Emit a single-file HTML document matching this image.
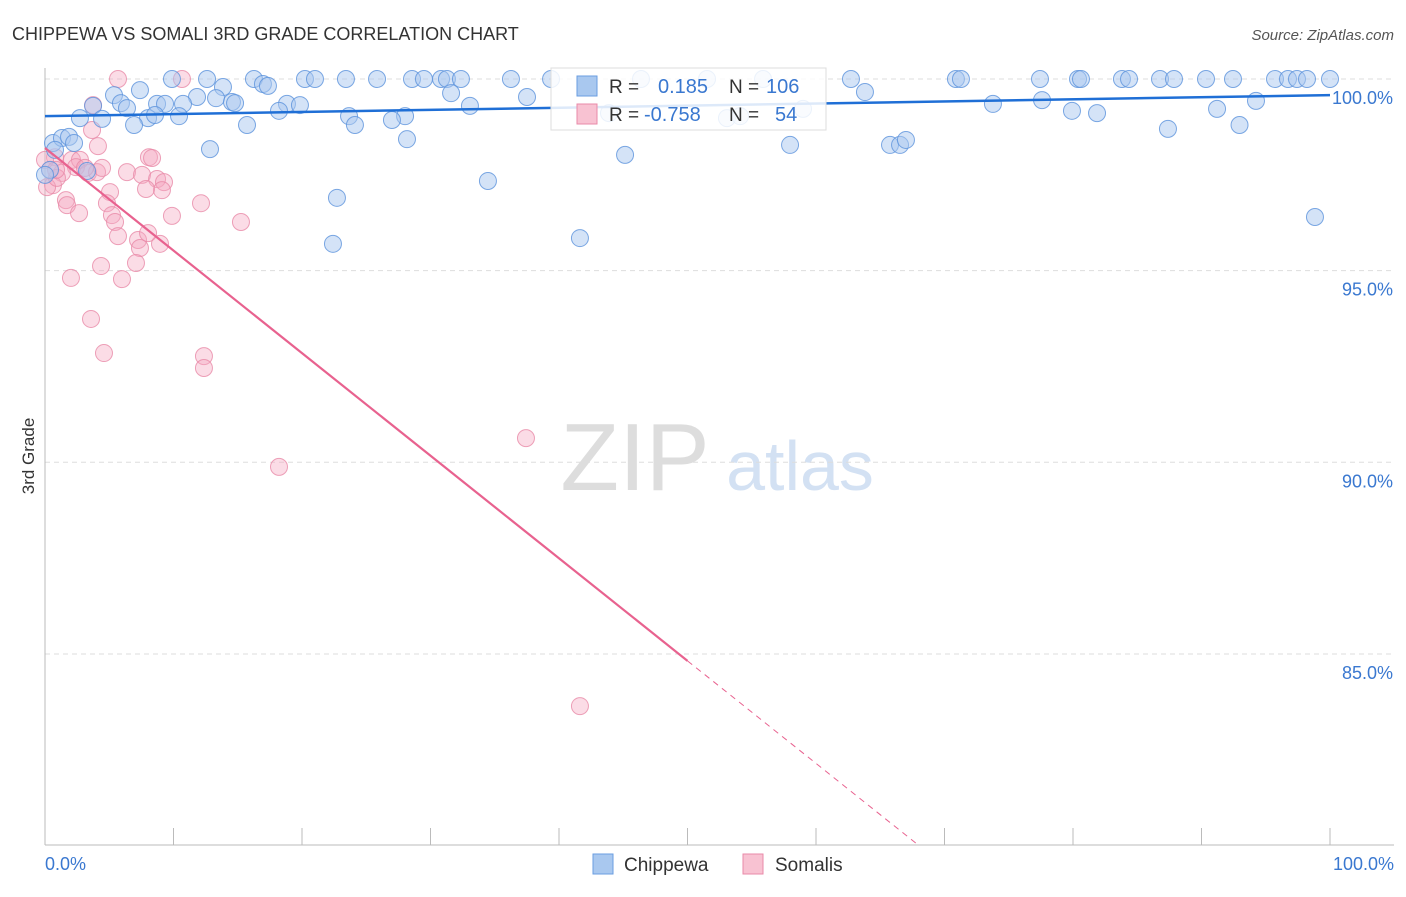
<!DOCTYPE html>
<html><head><meta charset="utf-8"><style>
body{margin:0;background:#fff;font-family:"Liberation Sans",sans-serif}
svg text{font-family:"Liberation Sans",sans-serif}
</style></head><body>
<svg id="chart" width="1406" height="892" xmlns="http://www.w3.org/2000/svg">
<text x="12" y="40" font-size="18" fill="#333">CHIPPEWA VS SOMALI 3RD GRADE CORRELATION CHART</text>
<text x="1394" y="40" font-size="15" fill="#555" text-anchor="end" font-style="italic">Source: ZipAtlas.com</text>
<g>
<text x="635" y="490" font-size="96" fill="#ddd" font-family="Liberation Serif" text-anchor="middle">ZIP</text>
<text x="800" y="490" font-size="70" fill="#d3e1f3" text-anchor="middle">atlas</text>
</g>
<g id="grid"></g>
<g id="axes"></g>
<g id="pts"></g>
<g id="trends"></g>
<text transform="translate(34,456) rotate(-90)" font-size="17" fill="#333" text-anchor="middle">3rd Grade</text>
<g>
<rect x="551" y="68" width="275" height="62" fill="#fff" fill-opacity="0.85" stroke="#ddd"/>
<rect x="577" y="76" width="20" height="20" fill="#a9c8ef" stroke="#6a9ee0"/>
<text x="609" y="93" font-size="19" fill="#333">R =</text><text x="658" y="93" font-size="20" fill="#3a78d0">0.185</text>
<text x="729" y="93" font-size="19" fill="#333">N =</text><text x="766" y="93" font-size="20" fill="#3a78d0">106</text>
<rect x="577" y="104" width="20" height="20" fill="#f8c2d2" stroke="#e98aa8"/>
<text x="609" y="121" font-size="19" fill="#333">R =</text><text x="644" y="121" font-size="20" fill="#3a78d0">-0.758</text>
<text x="729" y="121" font-size="19" fill="#333">N =</text><text x="775" y="121" font-size="20" fill="#3a78d0">54</text>
</g>
<g>
<rect x="593" y="854" width="20" height="20" fill="#a9c8ef" stroke="#6a9ee0"/>
<text x="624" y="871" font-size="19" fill="#333">Chippewa</text>
<rect x="743" y="854" width="20" height="20" fill="#f8c2d2" stroke="#e98aa8"/>
<text x="775" y="871" font-size="19" fill="#333">Somalis</text>
</g>
</svg>
<script>
const blueX=[9.88,12.61,16.26,20.23,21.01,23.42,25.84,28.56,29.49,30.82,31.28,32.37,36.26,39.38,46.38,51.52,55.88,62.72,70.89,71.28,77.43,80.39,80.62,83.81,84.36,86.77,87.86,90.35,92.45,95.72,96.73,97.43,98.21,100,
7.39,13.85,16.96,17.35,5.37,11.83,13.31,14.55,31.6,37.51,63.81,94.24,3.74,5.91,8.72,9.34,10.74,14.79,18.83,19.84,33.07,73.77,77.59,6.38,2.72,8.02,8.56,10.43,18.21,23.66,28.02,79.92,81.87,91.21,4.44,6.93,15.72,24.12,27,43.89,53.07,58.99,54.09,87.39,92.96,0.62,1.32,1.87,2.26,28.17,12.84,45.14,57.98,65.76,66.54,67,3.27,34.47,22.72,98.83,22.41,41.63,0.78,0.39,0];
const blueY=[100,100,100,100,100,100,100,100,100,100,100,100,100,100,100,100,100,100,100,100,100,100,100,100,100,100,100,100,100,100,100,100,100,100,
99.71,99.79,99.87,99.82,99.58,99.53,99.5,99.4,99.63,99.53,99.66,99.43,99.3,99.37,99.35,99.35,99.35,99.37,99.35,99.32,99.3,99.35,99.45,99.24,98.98,98.98,99.06,99.03,99.17,99.03,99.03,99.17,99.11,99.22,98.96,98.8,98.8,98.8,98.93,99.11,98.98,99.22,99.03,98.7,98.8,98.33,98.46,98.49,98.33,98.43,98.17,98.02,98.28,98.28,98.28,98.41,97.6,97.34,96.9,96.4,95.7,95.85,98.15,97.63,97.5];
const pinkX=[5.68,10.66,3.74,3.66,4.12,0.78,2.1,2.72,2.41,3.35,4.05,1.32,0.39,0.62,0.16,0.93,1.63,1.71,2.65,5.06,4.82,5.21,5.45,5.68,6.38,7.55,8.72,9.26,9.1,7.86,8.09,8.33,7.24,7.39,8.95,7.08,8.02,9.88,12.14,15.25,4.36,2.02,5.99,3.58,4.59,12.37,12.37,18.21,37.43,41.63,0,0.86,3.11,4.44];
const pinkY=[100,100,99.32,98.67,98.25,97.96,97.89,97.89,97.7,97.55,97.57,97.55,97.63,97.23,97.18,97.42,96.84,96.71,96.5,97.05,96.76,96.45,96.27,95.9,97.57,97.5,97.39,97.31,97.1,97.13,97.96,97.94,95.8,95.59,95.7,95.2,95.98,96.43,96.76,96.27,95.12,94.81,94.78,93.74,92.85,92.77,92.46,89.88,90.63,83.64,97.89,97.63,97.68,97.68];
const yTicks=[100,95,90,85];
const yTickLabels=["100.0%","95.0%","90.0%","85.0%"];
const xTickLabels=["0.0%","100.0%"];
const blueTrend=[99.03,99.58];
const pinkTrend=[98.2,-0.2676];
const NS="http://www.w3.org/2000/svg";
const X=v=>45+v*12.85, Y=v=>79+(100-v)*38.33;
function mk(tag,attrs,parent){const e=document.createElementNS(NS,tag);for(const k in attrs)e.setAttribute(k,attrs[k]);parent.appendChild(e);return e;}
const grid=document.getElementById('grid'),axes=document.getElementById('axes'),pts=document.getElementById('pts'),tr=document.getElementById('trends');
yTicks.forEach((t,i)=>{
 const l=mk('line',{x1:45,x2:1394,y1:Y(t),y2:Y(t),stroke:'#ddd','stroke-dasharray':'5,4'},grid);
 
 
 const tx=mk('text',{x:1393,y:Y(t)+25,'font-size':18,fill:'#3a78d0','text-anchor':'end'},axes);
 tx.textContent=yTickLabels[i];
 
 
});
const xa=mk('line',{x1:45,x2:1394,y1:845,y2:845,stroke:'#bbb'},axes);


const ya=mk('line',{x1:45,x2:45,y1:68,y2:845,stroke:'#bbb'},axes);


for(let i=1;i<=10;i++){
 const t=mk('line',{x1:X(i*10),x2:X(i*10),y1:828,y2:845,stroke:'#bbb'},axes);
 
 
}
[[0,'start',45],[100,'end',1394]].forEach((a,i)=>{
 const t=mk('text',{x:a[2],y:870,'font-size':18,fill:'#3a78d0','text-anchor':a[1]},axes);
 t.textContent=xTickLabels[i];
 
 
});
pinkX.forEach((x,i)=>{
 const c=mk('circle',{cx:X(x),cy:Y(pinkY[i]),r:8.5,fill:'#f5a8c0','fill-opacity':0.4,stroke:'#e98aa8','stroke-opacity':0.8},pts);
 
 
});
blueX.forEach((x,i)=>{
 const c=mk('circle',{cx:X(x),cy:Y(blueY[i]),r:8.5,fill:'#a9c8ef','fill-opacity':0.5,stroke:'#5b92dc','stroke-opacity':0.8},pts);
 
 
});
const bl=mk('line',{x1:X(0),y1:Y(blueTrend[0]),x2:X(100),y2:Y(blueTrend[1]),stroke:'#1f6fd6','stroke-width':2.5},tr);


const pf=x=>pinkTrend[0]+pinkTrend[1]*x;
const xEnd=(80-pinkTrend[0])/pinkTrend[1];
const pl=mk('line',{x1:X(0),y1:Y(pf(0)),x2:X(50),y2:Y(pf(50)),stroke:'#e8628f','stroke-width':2.2},tr);


const pd=mk('line',{x1:X(50),y1:Y(pf(50)),x2:X(xEnd),y2:Y(80),stroke:'#e8628f','stroke-width':1,'stroke-dasharray':'6,5'},tr);


</script>
</body></html>
